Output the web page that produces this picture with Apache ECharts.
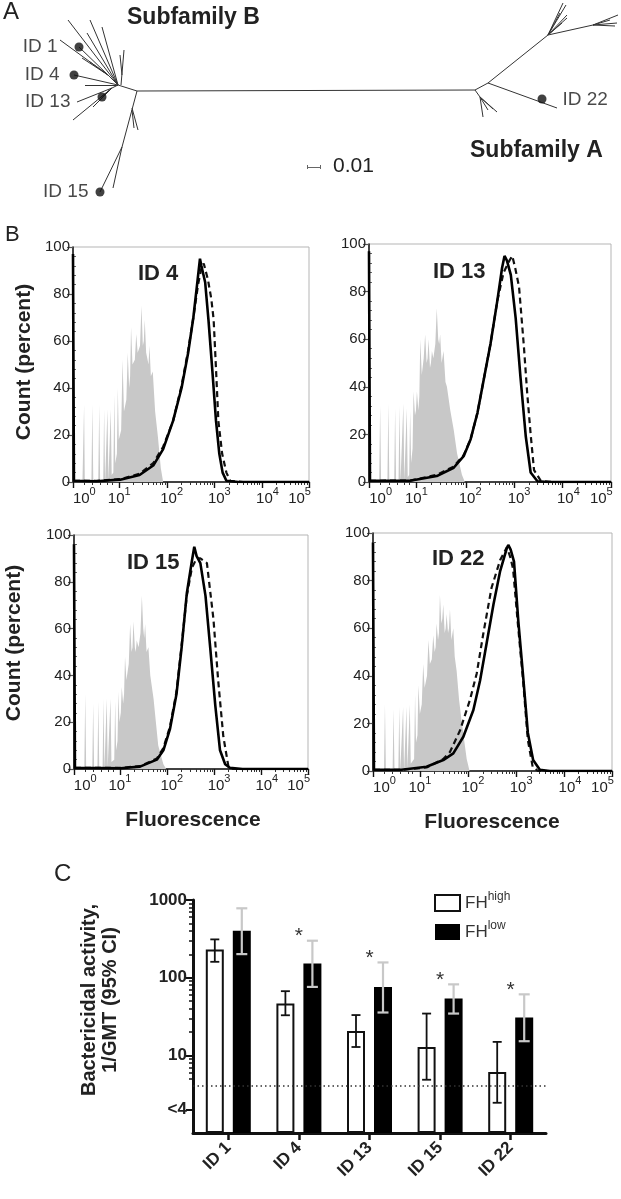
<!DOCTYPE html>
<html><head><meta charset="utf-8">
<script src="https://cdn.jsdelivr.net/npm/echarts@6/dist/echarts.min.js"></script>
<style>html,body{margin:0;padding:0;background:#fff}#c{width:621px;height:1199px}</style>
</head><body><div id="c"></div><script>
const FONT = '"Liberation Sans", Arial, Helvetica, sans-serif';

// ---------------- Panel A: unrooted tree (layout units, origin = subfamily B hub) ----------------
const treeEdges = [
  [[0,0],[338,1]],
  [[0,0],[-19,6]],
  [[-16,6],[-13,41]],
  [[-15,16],[-17,36]],
  [[-19,6],[-69,71]],
  [[-19,6],[-47,71]],
  [[-19,6],[-35,64]],
  [[-19,6],[-50,58]],
  [[-19,6],[-29,16]],
  [[-29,16],[-58,44]],
  [[-29,16],[-77,51]],
  [[-29,16],[-55,33]],
  [[-29,16],[-47,29]],
  [[-19,6],[-63,16]],
  [[-19,6],[-52,6]],
  [[-19,6],[-25,3]],
  [[-25,3],[-60,-11]],
  [[-25,3],[-64,-29]],
  [[-25,3],[-44,-16]],
  [[-25,3],[-37,-7]],
  [[0,0],[-15,-56]],
  [[-15,-56],[-37,-101]],
  [[-15,-56],[-24,-97]],
  [[-5,-17],[1,-39]],
  [[-5,-19],[-3,-37]],
  [[338,1],[351,8]],
  [[351,8],[411,56]],
  [[411,56],[426,88]],
  [[411,56],[429,86]],
  [[411,56],[430,76]],
  [[411,56],[430,73]],
  [[411,56],[425,68]],
  [[411,56],[423,78]],
  [[411,56],[456,66]],
  [[456,66],[481,76]],
  [[456,66],[480,68]],
  [[456,66],[478,65]],
  [[456,66],[473,71]],
  [[351,8],[420,-17]],
  [[338,1],[343,-6]],
  [[343,-6],[346,-26]],
  [[343,-6],[351,-19]],
  [[343,-6],[360,-21]],
  [[343,-6],[356,-18]]
];
const tipNames = ['ID 1','ID 4','ID 13','ID 15','ID 22'];
const tipCoords = [[-58,44],[-63,16],[-35,-6],[-37,-101],[405,-8]];
const scaleBarValue = 0.01;          // substitutions per site
const layoutUnitsPerSub = 1300;      // tree layout units per substitution/site
const scaleBarStart = [170,-76];

// ---------------- Panel B: flow histograms (x = display decade units, y = % of max) ----------------
const panelNames = ['ID 4','ID 13','ID 15','ID 22'];
const ctrl4 = [[0.2,0],[0.235,33],[0.25,0],[0.39,0],[0.41,33],[0.43,0],[0.535,0],[0.556,33],[0.575,0],[0.64,0],[0.66,31],[0.68,0],[0.71,0],[0.73,31],[0.75,1],[0.78,1],[0.8,31],[0.82,3],[0.855,4],[0.876,37],[0.895,8],[0.93,12],[0.95,40],[0.97,18],[1.02,22],[1.05,52],[1.08,30],[1.13,35],[1.16,55],[1.19,40],[1.21,45],[1.23,66],[1.26,50],[1.31,52],[1.34,63],[1.37,55],[1.42,58],[1.45,75],[1.48,58],[1.5,60],[1.52,69],[1.55,55],[1.6,50],[1.62,58],[1.65,45],[1.69,47],[1.74,30],[1.8,19],[1.86,6],[1.91,0]];
const solid4 = [[0,97],[0.02,0.5],[0.5,0.3],[1.0,1],[1.41,3],[1.7,7],[1.91,14],[2.12,26],[2.3,40],[2.44,55],[2.55,70],[2.64,86],[2.69,95],[2.72,92],[2.8,85],[2.87,69],[2.95,48],[3.03,26],[3.1,12],[3.17,4],[3.25,0.5],[3.5,0],[5,0]];
const dashed4 = [[0.02,0.5],[0.5,0.5],[1.0,1.2],[1.41,3.5],[1.7,8],[1.91,15],[2.12,26],[2.3,41],[2.44,56],[2.55,70],[2.65,84],[2.72,91],[2.77,93],[2.86,86],[2.93,78],[2.98,69],[3.03,48],[3.08,26],[3.16,12],[3.25,4],[3.33,0.5],[3.6,0],[5,0]];
const ctrl13 = [[0.21,0],[0.23,32],[0.25,0],[0.38,0],[0.4,33],[0.42,0],[0.52,0],[0.54,31],[0.56,0],[0.61,0],[0.63,32],[0.65,0],[0.69,0],[0.71,33],[0.73,1],[0.76,1],[0.78,31],[0.8,2],[0.83,3],[0.85,30],[0.87,8],[0.9,14],[0.92,38],[0.95,28],[0.97,30],[0.99,38],[1.02,30],[1.04,36],[1.06,60],[1.09,45],[1.13,52],[1.16,62],[1.19,50],[1.21,52],[1.23,60],[1.26,48],[1.28,50],[1.3,55],[1.33,52],[1.37,58],[1.4,73],[1.43,60],[1.45,58],[1.47,62],[1.5,50],[1.54,55],[1.58,42],[1.61,40],[1.68,30],[1.75,22],[1.82,12],[1.92,3],[1.98,0]];
const solid13 = [[0,97],[0.02,0.5],[0.85,0.5],[1.4,2.5],[1.75,6],[1.96,11],[2.1,18],[2.24,29],[2.37,43],[2.51,58],[2.65,76],[2.75,90],[2.8,95],[2.85,93],[2.93,87],[3.03,69],[3.13,44],[3.24,19],[3.34,4],[3.48,0.3],[3.7,0],[5,0]];
const dashed13 = [[0.02,0.5],[0.85,0.6],[1.4,3],[1.75,6.5],[1.96,11.5],[2.1,18],[2.24,29],[2.37,43],[2.51,58],[2.65,76],[2.78,88],[2.9,93],[2.96,95],[3.02,90],[3.1,82],[3.2,57],[3.27,37],[3.34,20],[3.41,5],[3.55,0.5],[3.8,0],[5,0]];
const ctrl15 = [[0.22,0],[0.24,32],[0.26,0],[0.39,0],[0.41,28],[0.43,0],[0.5,0],[0.52,29],[0.54,0],[0.61,0],[0.63,30],[0.65,0],[0.68,0],[0.7,30],[0.72,1],[0.76,1],[0.78,30],[0.8,3],[0.86,4],[0.88,29],[0.9,8],[0.93,12],[0.95,33],[0.97,20],[1.0,24],[1.02,35],[1.05,28],[1.07,32],[1.09,48],[1.12,38],[1.17,45],[1.2,62],[1.23,50],[1.25,52],[1.27,63],[1.3,52],[1.32,50],[1.34,55],[1.38,52],[1.42,58],[1.45,74],[1.48,60],[1.5,56],[1.52,62],[1.55,50],[1.59,52],[1.63,40],[1.7,30],[1.75,20],[1.8,10],[1.91,2],[1.97,0]];
const solid15 = [[0,96],[0.02,0.5],[1.0,0.3],[1.41,1],[1.77,4],[1.91,8],[2.05,17],[2.19,32],[2.3,52],[2.41,75],[2.52,89],[2.57,95],[2.62,91],[2.7,88],[2.81,74],[2.91,52],[3.02,27],[3.12,8],[3.23,2],[3.33,0.5],[3.6,0],[5,0]];
const dashed15 = [[0.02,0.5],[1.0,0.5],[1.41,1.2],[1.77,4.5],[1.91,9],[2.05,18],[2.19,33],[2.3,53],[2.41,74],[2.52,86],[2.62,90],[2.7,90],[2.84,88],[2.98,64],[3.08,38],[3.19,14],[3.3,1],[3.4,0],[5,0]];
const ctrl22 = [[0.23,0],[0.25,28],[0.27,0],[0.41,0],[0.43,26],[0.45,0],[0.53,0],[0.55,27],[0.57,0],[0.61,0],[0.63,27],[0.65,0],[0.68,0],[0.7,27],[0.72,1],[0.75,1],[0.77,28],[0.79,3],[0.86,5],[0.88,32],[0.9,12],[0.93,15],[0.95,36],[0.98,24],[1.02,28],[1.05,45],[1.08,35],[1.13,40],[1.16,55],[1.19,45],[1.23,47],[1.26,57],[1.29,50],[1.31,52],[1.33,62],[1.36,55],[1.38,58],[1.4,74],[1.43,62],[1.45,64],[1.47,70],[1.5,58],[1.52,60],[1.54,66],[1.57,58],[1.59,60],[1.61,68],[1.64,55],[1.68,60],[1.71,48],[1.75,42],[1.8,30],[1.86,20],[1.96,5],[2.02,0]];
const solid22 = [[0,96],[0.02,0.5],[0.6,0.5],[1.12,1.8],[1.47,4.6],[1.68,7.4],[1.89,14.4],[2.1,25.6],[2.24,38],[2.38,54],[2.52,70],[2.66,84],[2.8,93.6],[2.83,95],[2.88,93],[2.95,88],[3.04,63],[3.14,40],[3.24,16],[3.35,4.6],[3.49,0.5],[3.7,0],[5,0]];
const dashed22 = [[0.02,0.5],[0.6,0.5],[1.12,1.5],[1.47,5],[1.61,8],[1.82,17],[2.03,30],[2.17,41],[2.31,58],[2.48,77],[2.66,88.6],[2.8,94],[2.87,90],[2.93,85],[3.03,62],[3.14,38],[3.24,13],[3.34,1.8],[3.45,0],[5,0]];
const ctrlData = [ctrl4, ctrl13, ctrl15, ctrl22];
const solidData = [solid4, solid13, solid15, solid22];
const dashedData = [dashed4, dashed13, dashed15, dashed22];
const xTickExponents = ['0','1','2','3','4','5'];
const xMajorTicks = [0, 0.98, 2, 3, 4, 5];
const yTicksPct = [0, 20, 40, 60, 80, 100];

// ---------------- Panel C: bactericidal titres ----------------
const categories = ['ID 1','ID 4','ID 13','ID 15','ID 22'];
const fhHigh = [231, 46.5, 20.6, 12.8, 6.1];
const fhHighCI = [[160,311],[32.8,67],[12.8,33],[4.85,34.5],[2.45,14.9]];
const fhLow = [402, 152, 76, 53.8, 30.6];
const fhLowCI = [[201,782],[76,299],[35.6,157],[34.5,82],[15.2,61]];
const significant = [false, true, true, true, true];
const detectionLimit = 4;
const yTickValues = [2, 10, 100, 1000];
const yTickLabels = ['<4', '10', '100', '1000'];

// ================= layout / style =================
const chart = echarts.init(document.getElementById('c'), null, {renderer:'canvas'});
const grids = [], xAxes = [], yAxes = [], series = [], graphics = [];

function txt(text, x, y, size, weight, align, opts) {
  const o = Object.assign({type:'text', x:x, y:y, z:50, silent:true,
    style:{text:text, fill:'#222', fontSize:size, fontWeight:weight||'normal', fontFamily:FONT,
      textAlign:align||'left', textVerticalAlign:'middle'}}, opts||{});
  graphics.push(o);
}

// --- tree grid
grids.push({left:0, top:0, width:621, height:200, show:false});
xAxes.push({type:'value', gridIndex:0, min:-137, max:484, show:false});
yAxes.push({type:'value', gridIndex:0, min:-109, max:91, show:false});
series.push({type:'lines', coordinateSystem:'cartesian2d', xAxisIndex:0, yAxisIndex:0, silent:true,
  data: treeEdges.map(c => ({coords:c})), lineStyle:{color:'#333', width:1, opacity:1}, z:2});
const sbLen = scaleBarValue * layoutUnitsPerSub;
const sbEnd = [scaleBarStart[0] + sbLen, scaleBarStart[1]];
series.push({type:'lines', coordinateSystem:'cartesian2d', xAxisIndex:0, yAxisIndex:0, silent:true,
  data:[{coords:[scaleBarStart, sbEnd]},
        {coords:[[scaleBarStart[0], scaleBarStart[1]+2],[scaleBarStart[0], scaleBarStart[1]-2]]},
        {coords:[[sbEnd[0], sbEnd[1]+2],[sbEnd[0], sbEnd[1]-2]]}],
  lineStyle:{color:'#666', width:1, opacity:1}});
const tipLabelLayout = [
  {pos:'left', dist:17, dy:0}, {pos:'left', dist:10, dy:0}, {pos:'left', dist:27, dy:5},
  {pos:'left', dist:7, dy:0}, {pos:'right', dist:16, dy:1}];
series.push({type:'scatter', xAxisIndex:0, yAxisIndex:0, symbolSize:9, silent:true, z:5,
  itemStyle:{color:'#111'},
  data: tipNames.map((n,i) => ({name:n, value:tipCoords[i],
    label:{show:true, position:tipLabelLayout[i].pos, distance:tipLabelLayout[i].dist,
      offset:[0, tipLabelLayout[i].dy], formatter:'{b}', color:'#1a1a1a', fontSize:19, fontFamily:FONT}}))});
txt('A', 3, 12, 24, 'normal');
txt('Subfamily B', 127, 18, 23, 'bold');
txt('Subfamily A', 470, 151, 23, 'bold');
txt(String(scaleBarValue), 333, 166, 21, 'normal');

// --- histogram grids
const hLayout = [
  {left:73, top:247, width:236, height:235, idx:138, idy:274},
  {left:369, top:244, width:242, height:238, idx:433, idy:272},
  {left:74, top:535, width:234, height:234, idx:127, idy:563},
  {left:373, top:533, width:239, height:238, idx:432, idy:559}];
const xLabelPos = [0.24, 0.98, 2.09, 3.1, 4.12, 4.8];
const xMinorTicks = [0.23, 0.41, 0.58, 0.73, 0.83];
[2,3,4,5,6,7,8,9].forEach(k => xMinorTicks.push(+(0.98 + 1.02*Math.log10(k)).toFixed(3)));
[2,3,4].forEach(d => [2,3,4,5,6,7,8,9].forEach(k => xMinorTicks.push(+(d + Math.log10(k)).toFixed(3))));
const yMinorPct = [];
for (let v = 4; v < 100; v += 4) if (v % 20) yMinorPct.push(v);

hLayout.forEach((L, p) => {
  const gi = grids.length;
  grids.push({left:L.left, top:L.top, width:L.width, height:L.height, show:true,
    borderColor:'#b5b5b5', borderWidth:1, backgroundColor:'transparent'});
  const xi = xAxes.length;
  xAxes.push({type:'value', gridIndex:gi, min:0, max:5, position:'bottom',
    axisLine:{show:true, onZero:false, lineStyle:{color:'#111', width:1.5}},
    axisTick:{show:true, length:6, customValues:xMajorTicks, lineStyle:{color:'#111', width:1.4}},
    axisLabel:{show:true, customValues:xLabelPos, margin:4, color:'#222', fontSize:15, fontFamily:FONT, lineHeight:26,
      formatter: v => { let b=0; xLabelPos.forEach((q,i)=>{ if (Math.abs(q-v) < Math.abs(xLabelPos[b]-v)) b=i; });
        return '10{s|' + xTickExponents[b] + '}'; },
      rich:{s:{fontSize:11, lineHeight:11, verticalAlign:'top', color:'#222', fontFamily:FONT}}},
    splitLine:{show:false}});
  xAxes.push({type:'value', gridIndex:gi, min:0, max:5, position:'bottom',
    axisLine:{show:false}, axisLabel:{show:false}, splitLine:{show:false},
    axisTick:{show:true, length:3, customValues:xMinorTicks, lineStyle:{color:'#333', width:1}}});
  const yi = yAxes.length;
  yAxes.push({type:'value', gridIndex:gi, min:0, max:100, position:'left',
    axisLine:{show:true, onZero:false, lineStyle:{color:'#111', width:1.5}},
    axisTick:{show:true, length:6, customValues:yTicksPct, lineStyle:{color:'#555', width:1.2}},
    axisLabel:{show:true, customValues:yTicksPct, margin:3, color:'#222', fontSize:15, fontFamily:FONT},
    splitLine:{show:false}});
  yAxes.push({type:'value', gridIndex:gi, min:0, max:100, position:'left',
    axisLine:{show:false}, axisLabel:{show:false}, splitLine:{show:false},
    axisTick:{show:true, inside:true, length:3, customValues:yMinorPct, lineStyle:{color:'#666', width:1}}});
  series.push({type:'line', xAxisIndex:xi, yAxisIndex:yi, data:ctrlData[p], symbol:'none', silent:true,
    lineStyle:{width:0, color:'#c8c8c8'}, areaStyle:{color:'#c8c8c8', opacity:1}, z:1});
  series.push({type:'line', xAxisIndex:xi, yAxisIndex:yi, data:dashedData[p], symbol:'none', silent:true,
    lineStyle:{color:'#111', width:2.2, type:[6,4]}, z:3});
  series.push({type:'line', xAxisIndex:xi, yAxisIndex:yi, data:solidData[p], symbol:'none', silent:true,
    lineStyle:{color:'#000', width:2.6}, z:4});
  txt(panelNames[p], L.idx, L.idy, 22, 'bold');
});
txt('B', 5, 235, 22, 'normal');
txt('Count (percent)', 24, 362, 21, 'bold', 'center', {rotation:Math.PI/2});
txt('Count (percent)', 14, 643, 21, 'bold', 'center', {rotation:Math.PI/2});
txt('Fluorescence', 193, 820, 21, 'bold', 'center');
txt('Fluorescence', 492, 822, 21, 'bold', 'center');

// --- bar chart grid
const bg = grids.length;
grids.push({left:193, top:900, width:353, height:233, show:false});
const bx = xAxes.length;
xAxes.push({type:'category', gridIndex:bg, data:categories, position:'bottom',
  axisLine:{show:true, lineStyle:{color:'#111', width:3}},
  axisTick:{show:true, alignWithLabel:true, length:7, lineStyle:{color:'#111', width:2.5}},
  axisLabel:{rotate:45, margin:12, color:'#222', fontSize:17, fontWeight:'bold', fontFamily:FONT, interval:0}});
const by = yAxes.length;
yAxes.push({type:'log', logBase:10, gridIndex:bg, min:1, max:1000, position:'left',
  axisLine:{show:true, onZero:false, lineStyle:{color:'#111', width:3}},
  axisTick:{show:true, length:7, customValues:yTickValues, lineStyle:{color:'#111', width:2}},
  axisLabel:{show:true, customValues:yTickValues, margin:6, color:'#222', fontSize:17, fontWeight:'bold', fontFamily:FONT,
    formatter: v => { const i = yTickValues.findIndex(t => Math.abs(t - v) / t < 1e-6); return i >= 0 ? yTickLabels[i] : ''; }},
  splitLine:{show:false}});
const yMinorLog = [5,6,7,8,9,20,30,40,50,60,70,80,90,200,300,400,500,600,700,800,900];
yAxes.push({type:'log', logBase:10, gridIndex:bg, min:1, max:1000, position:'left',
  axisLine:{show:false}, axisLabel:{show:false}, splitLine:{show:false},
  axisTick:{show:true, length:4, customValues:yMinorLog, lineStyle:{color:'#111', width:1.5}}});

series.push({type:'bar', name:'FHhigh', xAxisIndex:bx, yAxisIndex:by, data:fhHigh, barWidth:18, barGap:'50%',
  itemStyle:{color:'#fff', borderColor:'#111', borderWidth:2}, silent:true, z:2,
  markLine:{silent:true, symbol:'none', animation:false, data:[{yAxis:detectionLimit}],
    lineStyle:{type:[1.5,3], color:'#333', width:1.5}, label:{show:false}}});
series.push({type:'bar', name:'FHlow', xAxisIndex:bx, yAxisIndex:by, data:fhLow, barWidth:18, barGap:'50%',
  itemStyle:{color:'#000'}, silent:true, z:2});

function errRender(offset, half, color, width) {
  return function(params, api) {
    const i = api.value(0);
    const lo = api.coord([i, api.value(1)]);
    const hi = api.coord([i, api.value(2)]);
    const x = lo[0] + offset;
    const st = {stroke:color, lineWidth:width};
    return {type:'group', children:[
      {type:'line', shape:{x1:x, y1:lo[1], x2:x, y2:hi[1]}, style:st},
      {type:'line', shape:{x1:x-half, y1:hi[1], x2:x+half, y2:hi[1]}, style:st},
      {type:'line', shape:{x1:x-half, y1:lo[1], x2:x+half, y2:lo[1]}, style:st}]};
  };
}
series.push({type:'custom', xAxisIndex:bx, yAxisIndex:by, silent:true, z:5,
  data: fhHighCI.map((c,i) => [i, c[0], c[1]]), encode:{x:0, y:[1,2]},
  renderItem: errRender(-13.5, 4.5, '#111', 1.8)});
series.push({type:'custom', xAxisIndex:bx, yAxisIndex:by, silent:true, z:5,
  data: fhLowCI.map((c,i) => [i, c[0], c[1]]), encode:{x:0, y:[1,2]},
  renderItem: errRender(13.5, 5.5, '#c8c8c8', 2.2)});
series.push({type:'custom', xAxisIndex:bx, yAxisIndex:by, silent:true, z:6,
  data: fhLowCI.map((c,i) => [i, c[1]]).filter((d,i) => significant[i]), encode:{x:0, y:1},
  renderItem: (params, api) => {
    const p = api.coord([api.value(0), api.value(1)]);
    return {type:'text', x:p[0], y:p[1]-4.5, style:{text:'*', fill:'#333', fontSize:21, fontFamily:FONT,
      textAlign:'center', textVerticalAlign:'middle'}};
  }});

txt('C', 54, 874, 24, 'normal');
txt('Bactericidal activity,\n1/GMT (95% CI)', 100, 1000, 20, 'bold', 'center',
  {rotation:Math.PI/2, style:{text:'Bactericidal activity,\n1/GMT (95% CI)', fill:'#222', fontSize:20, fontWeight:'bold',
    fontFamily:FONT, textAlign:'center', textVerticalAlign:'middle', lineHeight:21}});

chart.setOption({
  animation:false,
  grid:grids, xAxis:xAxes, yAxis:yAxes, series:series, graphic:graphics,
  legend:{show:true, left:429, top:886, orient:'vertical', itemWidth:25, itemHeight:16, itemGap:5, selectedMode:false,
    data:[{name:'FHhigh', icon:'rect', itemStyle:{color:'#fff', borderColor:'#111', borderWidth:2}},
          {name:'FHlow', icon:'rect', itemStyle:{color:'#000'}}],
    formatter: n => n === 'FHhigh' ? 'FH{s|high}' : 'FH{s|low}',
    textStyle:{fontSize:17, color:'#333', fontFamily:FONT, lineHeight:24,
      rich:{s:{fontSize:12, lineHeight:12, verticalAlign:'top', color:'#333', fontFamily:FONT}}}}
});
</script></body></html>
